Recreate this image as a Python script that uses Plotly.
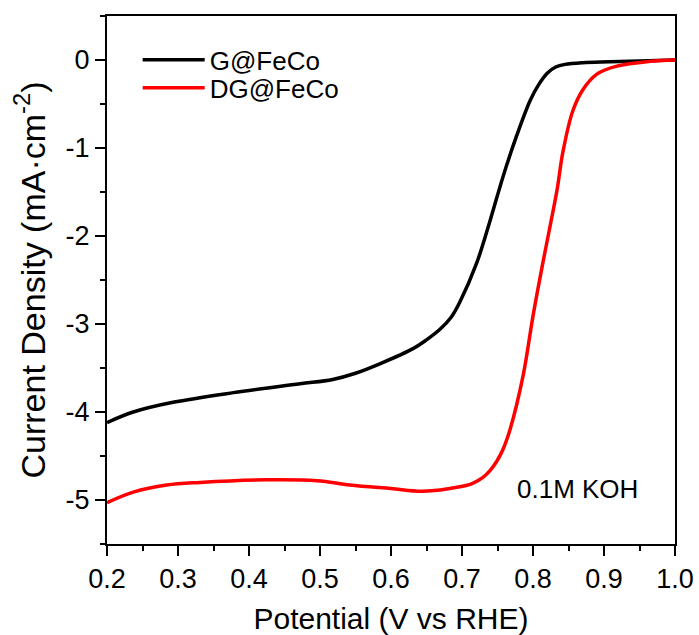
import plotly.graph_objects as go

# G@FeCo (black)
g_x = [0.20, 0.237, 0.293, 0.378, 0.472, 0.518, 0.550, 0.585, 0.631, 0.650, 0.669, 0.685,
       0.697, 0.721, 0.739, 0.758, 0.777, 0.796, 0.808, 0.820, 0.832, 0.845, 0.870,
       0.908, 0.950, 1.0]
g_y = [-4.12, -4.00, -3.89, -3.78, -3.68, -3.63, -3.56, -3.45, -3.28, -3.18, -3.06, -2.92,
       -2.75, -2.30, -1.84, -1.32, -0.86, -0.46, -0.28, -0.15, -0.08, -0.05, -0.03,
       -0.02, -0.01, 0.0]

# DG@FeCo (red)
dg_x = [0.20, 0.237, 0.284, 0.331, 0.425, 0.496, 0.542, 0.600, 0.645, 0.697, 0.715,
        0.730, 0.740, 0.749, 0.758, 0.768, 0.786, 0.800, 0.814, 0.824, 0.834, 0.842,
        0.856, 0.870, 0.890, 0.918, 0.965, 1.0]
dg_y = [-5.03, -4.91, -4.83, -4.80, -4.77, -4.78, -4.83, -4.87, -4.90, -4.85, -4.81,
        -4.74, -4.66, -4.56, -4.42, -4.19, -3.59, -2.91, -2.30, -1.89, -1.47, -1.05,
        -0.58, -0.34, -0.16, -0.07, -0.015, 0.0]

x_ticks = [0.2, 0.3, 0.4, 0.5, 0.6, 0.7, 0.8, 0.9, 1.0]
x_ticktext = ["0.2", "0.3", "0.4", "0.5", "0.6", "0.7", "0.8", "0.9", "1.0"]
y_ticks = [0, -1, -2, -3, -4, -5]
y_ticktext = ["0", "-1", "-2", "-3", "-4", "-5"]

FONT = "Liberation Sans, Arial, sans-serif"

fig = go.Figure()
fig.add_trace(go.Scatter(x=g_x, y=g_y, mode="lines", name="G@FeCo", legend="legend",
                         line=dict(color="black", width=3.5, shape="spline", smoothing=1)))
fig.add_trace(go.Scatter(x=dg_x, y=dg_y, mode="lines", name="DG@FeCo", legend="legend2",
                         line=dict(color="#ff0000", width=3.5, shape="spline", smoothing=1)))

axis_common = dict(showline=True, linecolor="black", linewidth=2, mirror=True,
                   ticks="outside", ticklen=10, tickwidth=2, tickcolor="black",
                   showgrid=False, zeroline=False, automargin=False,
                   tickfont=dict(family=FONT, size=27, color="black"))

fig.update_xaxes(range=[0.2, 1.0], tickvals=x_ticks, ticktext=x_ticktext,
                 minor=dict(ticks="outside", ticklen=5, tickwidth=2, dtick=0.05,
                            tick0=0.2, tickcolor="black"),
                 title=dict(text="Potential (V vs RHE)", font=dict(family=FONT, size=30, color="black"),
                            standoff=22),
                 **axis_common)
fig.update_yaxes(range=[-5.5, 0.5], tickvals=y_ticks, ticktext=y_ticktext,
                 minor=dict(ticks="outside", ticklen=5, tickwidth=2, dtick=0.5,
                            tick0=0, tickcolor="black"),
                 title=dict(text="Current Density (mA·cm<sup>-2</sup>)",
                            font=dict(family=FONT, size=34, color="black"), standoff=10),
                 **axis_common)

fig.add_annotation(x=0.863, y=-4.875, xref="x", yref="y", text="0.1M KOH", showarrow=False,
                   font=dict(family=FONT, size=26, color="black"))

leg_common = dict(xanchor="left", yanchor="middle",
                  font=dict(family=FONT, size=26, color="black"),
                  bgcolor="rgba(0,0,0,0)", itemwidth=62)

fig.update_layout(
    width=699, height=635,
    margin=dict(l=107, r=24, t=16, b=91),
    paper_bgcolor="white", plot_bgcolor="white",
    legend=dict(x=0.054, y=0.917, **leg_common),
    legend2=dict(x=0.054, y=0.864, **leg_common),
    showlegend=True,
)

fig.write_html("out.html")
